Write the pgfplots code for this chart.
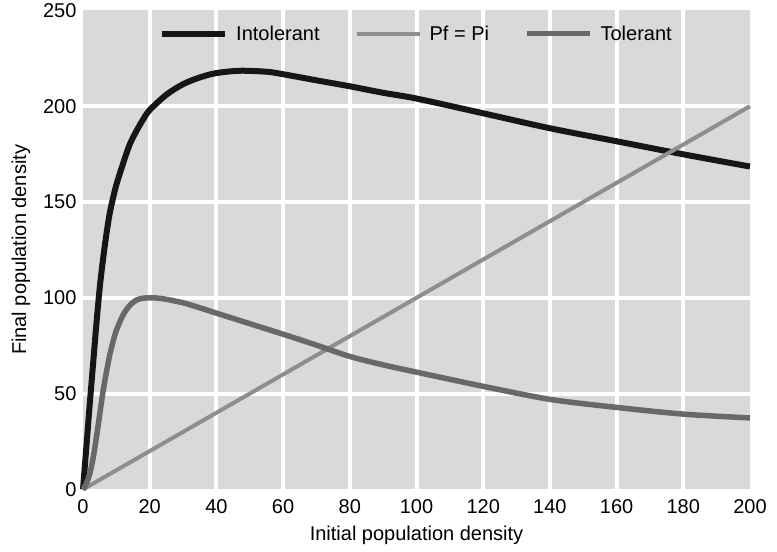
\documentclass[border=0pt]{standalone}
\usepackage{fontspec}
\setmainfont{Liberation Sans}
\usepackage{pgfplots}
\pgfplotsset{compat=1.18}
\definecolor{bg}{RGB}{217,217,217}
\definecolor{intol}{RGB}{22,22,22}
\definecolor{ident}{RGB}{142,142,142}
\definecolor{tol}{RGB}{104,104,104}
\begin{document}
\begin{tikzpicture}
\begin{axis}[
 scale only axis, width=667pt, height=479pt,
 xmin=0, xmax=200, ymin=0, ymax=250,
 xtick={0,20,...,200}, ytick={0,50,...,250},
 minor xtick={20,40,...,180}, minor ytick={50,100,...,200},
 grid=minor, minor grid style={white, line width=4pt},
 axis background/.style={fill=bg},
 axis line style={draw=none},
 major tick length=0pt, minor tick length=0pt,
 tick label style={font=\fontsize{20}{23}\selectfont},
 /pgf/number format/assume math mode=true,
 xticklabel style={yshift=-7pt},
 yticklabel style={xshift=-3pt},
 label style={font=\fontsize{20}{23}\selectfont},
 xlabel={Initial population density},
 ylabel={Final population density},
 xlabel style={yshift=-5pt},
 ylabel style={yshift=6pt},
 legend style={at={(0.5,1)}, anchor=north, yshift=-11pt, draw=none, fill=none,
   legend columns=3, font=\fontsize{20}{23}\selectfont,
   /tikz/every odd column/.append style={column sep=6pt},
   /tikz/every even column/.append style={column sep=33pt}},
 legend image code/.code={\draw[#1] (0pt,0pt) -- (63pt,0pt);},
 clip=false,
]
\coordinate (bl) at (rel axis cs:0,0);
\addplot[intol, line width=6pt, smooth, tension=0.5] coordinates {
(0,0) (1,22) (2,44) (3,65) (4,86) (5,105) (6,120) (7,133) (8,144) (9,152)
(10,159) (12,170) (14,180) (16,187) (18,193) (20,198) (25,206) (30,211.5)
(35,215) (40,217.3) (47,218.5) (55,218) (60,216.7) (70,213.5) (80,210.4)
(90,207) (100,204) (120,196.3) (140,188.5) (160,181.7) (180,174.9) (200,168.5)
};
\addlegendentry{Intolerant}
\addplot[ident, line width=4pt] coordinates {(0,0) (200,200)};
\addlegendentry{Pf = Pi}
\addplot[tol, line width=5.5pt, smooth, tension=0.5] coordinates {
(0,0) (1,3) (2,8) (3,16) (4,27) (5,39) (6,51) (7,61) (8,70) (9,77) (10,83)
(12,91) (14,96) (16,98.8) (18,99.8) (20,100) (22,99.9) (25,99.2) (30,97.4)
(35,94.8) (40,92) (50,86.5) (60,81) (70,75.3) (80,69.4) (90,65) (100,61.2) (120,53.8)
(140,47) (160,42.8) (180,39.3) (200,37.3)
};
\addlegendentry{Tolerant}
\end{axis}
\path (bl) ++(-83pt,-62pt) rectangle ++(777pt,550pt);
\end{tikzpicture}
\end{document}
